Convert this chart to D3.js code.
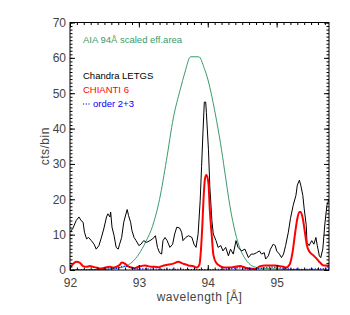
<!DOCTYPE html>
<html><head><meta charset="utf-8">
<script src="https://cdn.jsdelivr.net/npm/d3@7"></script>
<style>body{margin:0;background:#fff}svg{display:block}text{font-family:"Liberation Sans",Arial,sans-serif}</style>
</head><body><svg id="c" width="350" height="315"></svg>
<script>
// Chandra LETGS counts (wavelength, cts/bin)
const chandraWl = [92.00,92.04,92.09,92.13,92.16,92.19,92.21,92.24,92.27,92.31,92.35,92.38,92.42,92.45,92.49,92.53,92.55,92.58,92.59,92.61,92.64,92.67,92.70,92.72,92.75,92.78,92.82,92.83,92.85,92.88,92.90,92.93,92.96,93.00,93.03,93.07,93.11,93.16,93.20,93.24,93.27,93.30,93.33,93.35,93.38,93.41,93.45,93.49,93.52,93.55,93.59,93.62,93.64,93.68,93.72,93.77,93.80,93.83,93.86,93.89,93.91,93.93,93.95,93.97,93.98,94.01,94.03,94.06,94.08,94.12,94.15,94.19,94.22,94.26,94.30,94.33,94.37,94.41,94.44,94.49,94.54,94.59,94.63,94.67,94.71,94.75,94.78,94.82,94.84,94.88,94.91,94.95,94.98,95.00,95.04,95.07,95.10,95.13,95.17,95.20,95.24,95.28,95.30,95.33,95.35,95.38,95.40,95.43,95.44,95.47,95.51,95.54,95.57,95.59,95.62,95.64,95.67,95.70,95.73,95.76];
const chandraVal = [10.7,11.7,14,15,14,13.5,10.7,8.8,9.2,8.3,7.3,5.9,6.9,8.8,11.6,15,15.9,15,16.4,12.1,9.7,6.4,5.9,7.3,9.2,13.5,16.4,17.1,15.4,13.5,11.1,9.2,8.3,6.9,7.3,8.3,7.8,8.3,8.8,9.7,6.4,4.9,4.5,8.3,9.2,8.3,6.4,7.3,10.2,12.1,11.9,10.7,8.3,9.2,9.7,9.2,7.3,6.4,10.2,19.7,29.2,38.8,47.5,47.5,44.5,34,23.5,14,10.2,8.3,6.4,6.9,5.4,6.4,4,5.9,4.5,8.3,6.4,5.4,5.9,3.5,4.5,4.5,4.9,5.4,4.5,4.9,3.1,4,5.9,7.3,6.9,5.4,4.5,3.5,4.5,6.9,10.7,14.5,18.3,21.1,24,25.4,24,21.1,17.3,12.6,7.8,6.9,8.3,7.3,9.2,6.9,4,3.5,5.9,13,18.3,20];
// CHIANTI 6 model
const chiantiWl = [92.00,92.04,92.09,92.14,92.19,92.24,92.29,92.33,92.38,92.43,92.48,92.53,92.58,92.62,92.67,92.72,92.75,92.79,92.84,92.89,92.94,92.99,93.03,93.08,93.13,93.18,93.23,93.28,93.33,93.40,93.50,93.57,93.64,93.72,93.79,93.84,93.88,93.90,93.92,93.94,93.96,93.98,94.01,94.03,94.06,94.08,94.12,94.18,94.25,94.32,94.39,94.47,94.54,94.61,94.69,94.76,94.83,94.90,94.98,95.05,95.10,95.14,95.19,95.23,95.27,95.30,95.33,95.35,95.38,95.41,95.44,95.48,95.53,95.58,95.63,95.68,95.76];
const chiantiVal = [0.7,1.6,2.3,2.1,1.1,0.9,1.1,0.9,0.7,0.4,0.5,0.8,0.9,0.7,0.9,1.4,2.1,1.9,1.1,0.7,0.5,0.9,1.1,1.3,1.1,0.9,0.9,0.8,1.1,1.4,1.8,2.3,1.8,1.3,1.1,0.7,1.6,5.4,12.1,20.7,25.9,26.9,24.5,16.9,9.2,4.5,2.1,1.1,0.7,0.7,0.9,1.1,0.7,0.4,0.3,1.1,1.3,1.3,1.3,1.1,0.9,0.7,1.6,4.9,10.7,14.5,16.4,16.4,14.5,10.7,6.9,5.1,4.2,3.2,2.1,1.3,1.3];
// order 2+3 contribution
const orderWl = [92.00,92.40,92.60,92.70,92.80,92.85,92.95,93.10,93.30,93.50,93.80,94.00,94.30,94.45,94.55,94.70,94.90,95.00,95.20,95.40,95.60,95.76];
const orderVal = [0,0.1,0.3,0.6,1.1,0.9,0.3,0.3,0.2,0.2,0.1,0.1,0.3,0.6,0.4,0.3,0.8,0.7,0.3,0.2,0.3,0.3];
// AIA 94 scaled effective area
const aiaWl = [92.00,92.50,92.70,92.80,92.90,93.00,93.10,93.20,93.30,93.40,93.50,93.60,93.67,93.75,93.87,93.95,94.00,94.06,94.13,94.20,94.26,94.32,94.40,94.47,94.55,94.64,94.75,95.00,95.30,95.76];
const aiaVal = [0,0.2,0.6,1.0,2.2,4.5,8,12.5,20,31,43,51,56,60.3,60.3,57,54,49,42,34,26,18.3,10.5,6,3,1.2,0.6,0.3,0.1,0];
const xTicks = [92,93,94,95];
const yTicks = [0,10,20,30,40,50,60,70];
const legendLabels = ["AIA 94Å scaled eff.area","Chandra LETGS","CHIANTI 6","order 2+3"];

const L=70,R=329,T=22.5,B=270;
const svg=d3.select("#c");
const x=d3.scaleLinear().domain([92,95.76]).range([L,R]);
const y=d3.scaleLinear().domain([0,70]).range([B,T]);

svg.append("clipPath").attr("id","clip").append("rect").attr("x",L).attr("y",T).attr("width",R-L).attr("height",B-T);
const g=svg.append("g").attr("clip-path","url(#clip)");
const zip=(a,b)=>a.map((v,i)=>[v,b[i]]);
const line=(c)=>d3.line().x(d=>x(d[0])).y(d=>y(d[1])).curve(c);

g.append("path").datum(zip(aiaWl,aiaVal)).attr("d",line(d3.curveMonotoneX)).attr("fill","none").attr("stroke","#3a9a6a").attr("stroke-width",1);
g.append("path").datum(zip(chandraWl,chandraVal)).attr("d",line(d3.curveLinear)).attr("fill","none").attr("stroke","#000").attr("stroke-width",1);
g.append("path").datum(zip(chiantiWl,chiantiVal)).attr("d",line(d3.curveMonotoneX)).attr("fill","none").attr("stroke","#ff0000").attr("stroke-width",2);
g.append("path").datum(zip(orderWl,orderVal)).attr("d",line(d3.curveMonotoneX)).attr("fill","none").attr("stroke","#0000ff").attr("stroke-width",1.2).attr("stroke-dasharray","1.2,1.5");

// axes
const minorX=d3.range(92,95.76,0.1).map(v=>+v.toFixed(2));
const minorY=d3.range(0,70.01,1);
function axisStyle(sel){sel.select(".domain").remove();sel.selectAll("line").attr("stroke","#000");sel.selectAll("text").attr("font-size",12).attr("fill","#444");}
svg.append("g").attr("transform",`translate(0,${B})`).call(d3.axisBottom(x).tickValues(xTicks).tickSize(-5).tickPadding(8).tickFormat(d3.format("d"))).call(axisStyle);
svg.append("g").attr("transform",`translate(0,${B})`).call(d3.axisBottom(x).tickValues(minorX).tickSize(-2.5).tickFormat("")).call(axisStyle);
svg.append("g").attr("transform",`translate(0,${T})`).call(d3.axisTop(x).tickValues(xTicks).tickSize(-5).tickFormat("")).call(axisStyle);
svg.append("g").attr("transform",`translate(0,${T})`).call(d3.axisTop(x).tickValues(minorX).tickSize(-2.5).tickFormat("")).call(axisStyle);
svg.append("g").attr("transform",`translate(${L},0)`).call(d3.axisLeft(y).tickValues(yTicks).tickSize(-5).tickPadding(4)).call(axisStyle);
svg.append("g").attr("transform",`translate(${L},0)`).call(d3.axisLeft(y).tickValues(minorY).tickSize(-2.5).tickFormat("")).call(axisStyle);
svg.append("g").attr("transform",`translate(${R},0)`).call(d3.axisRight(y).tickValues(yTicks).tickSize(-5).tickFormat("")).call(axisStyle);
svg.append("g").attr("transform",`translate(${R},0)`).call(d3.axisRight(y).tickValues(minorY).tickSize(-2.5).tickFormat("")).call(axisStyle);
svg.append("rect").attr("x",L).attr("y",T).attr("width",R-L).attr("height",B-T).attr("fill","none").attr("stroke","#000").attr("stroke-width",1);

// axis titles
svg.append("text").attr("x",(L+R)/2).attr("y",301).attr("text-anchor","middle").attr("font-size",12).attr("letter-spacing",0.5).attr("fill","#444").text("wavelength [Å]");
svg.append("text").attr("transform",`translate(49,${(T+B)/2}) rotate(-90)`).attr("text-anchor","middle").attr("font-size",12).attr("letter-spacing",0.5).attr("fill","#444").text("cts/bin");

// legend
const lg=svg.append("g").attr("font-size",9.5);
lg.append("text").attr("x",83).attr("y",43).attr("fill","#3a9a6a").text(legendLabels[0]);
lg.append("text").attr("x",83).attr("y",79).attr("fill","#000").text(legendLabels[1]);
lg.append("text").attr("x",83).attr("y",93).attr("fill","#ff0000").text(legendLabels[2]);
lg.append("line").attr("x1",83).attr("x2",91).attr("y1",104).attr("y2",104).attr("stroke","#0000ff").attr("stroke-width",1.2).attr("stroke-dasharray","1.2,1.5");
lg.append("text").attr("x",93).attr("y",107).attr("fill","#0000ff").text(legendLabels[3]);
</script></body></html>
